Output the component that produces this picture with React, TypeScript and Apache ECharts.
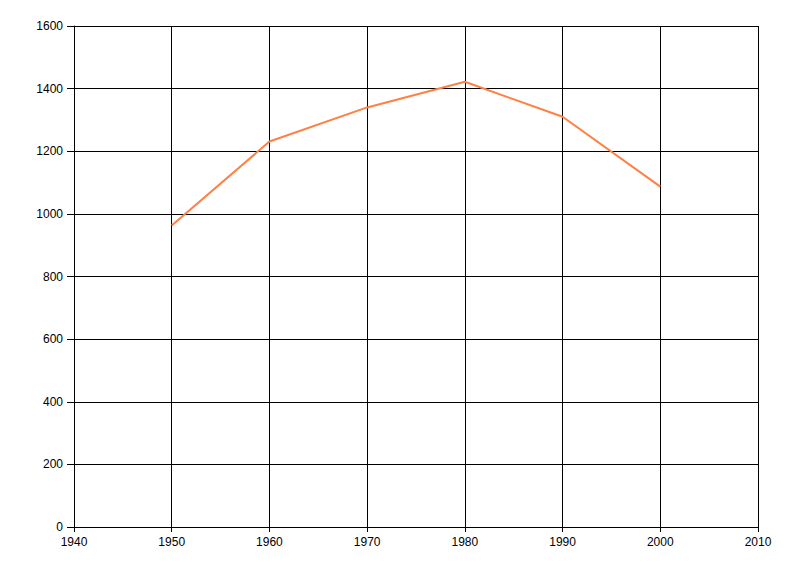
import React, { useEffect, useRef } from "react";
import * as echarts from "echarts";

const years = [1950, 1960, 1970, 1980, 1990, 2000];
const values = [963, 1231, 1340, 1422, 1310, 1087];

export default function App() {
  const ref = useRef<HTMLDivElement>(null);
  useEffect(() => {
    if (!ref.current) return;
    const chart = echarts.init(ref.current, undefined, { renderer: "svg" });
    const labelStyle = {
      color: "#000",
      fontFamily: "'Liberation Sans', Arial, sans-serif",
      fontSize: 12,
    };
    chart.setOption({
      animation: false,
      backgroundColor: "#fff",
      grid: { left: 74, right: 42, top: 26, bottom: 49, containLabel: false },
      xAxis: {
        type: "value",
        min: 1940,
        max: 2010,
        interval: 10,
        axisLine: { show: true, onZero: false, lineStyle: { color: "#000", width: 1 } },
        axisTick: { show: true, length: 5, lineStyle: { color: "#000" } },
        axisLabel: { ...labelStyle, margin: 9, formatter: (v: number) => String(v) },
        splitLine: { show: true, lineStyle: { color: "#000", width: 1 } },
      },
      yAxis: {
        type: "value",
        min: 0,
        max: 1600,
        interval: 200,
        axisLine: { show: true, lineStyle: { color: "#000", width: 1 } },
        axisTick: { show: true, length: 7, lineStyle: { color: "#000" } },
        axisLabel: { ...labelStyle, margin: 11, formatter: (v: number) => String(v) },
        splitLine: { show: true, lineStyle: { color: "#000", width: 1 } },
      },
      series: [
        {
          type: "line",
          data: years.map((y, i) => [y, values[i]]),
          showSymbol: false,
          symbol: "none",
          lineStyle: { color: "#FF7F45", width: 2 },
          itemStyle: { color: "#FF7F45" },
        },
      ],
    });
    return () => chart.dispose();
  }, []);
  return (
    <div
      ref={ref}
      style={{ position: "fixed", left: 0, top: 0, width: 800, height: 576, background: "#fff" }}
    />
  );
}
